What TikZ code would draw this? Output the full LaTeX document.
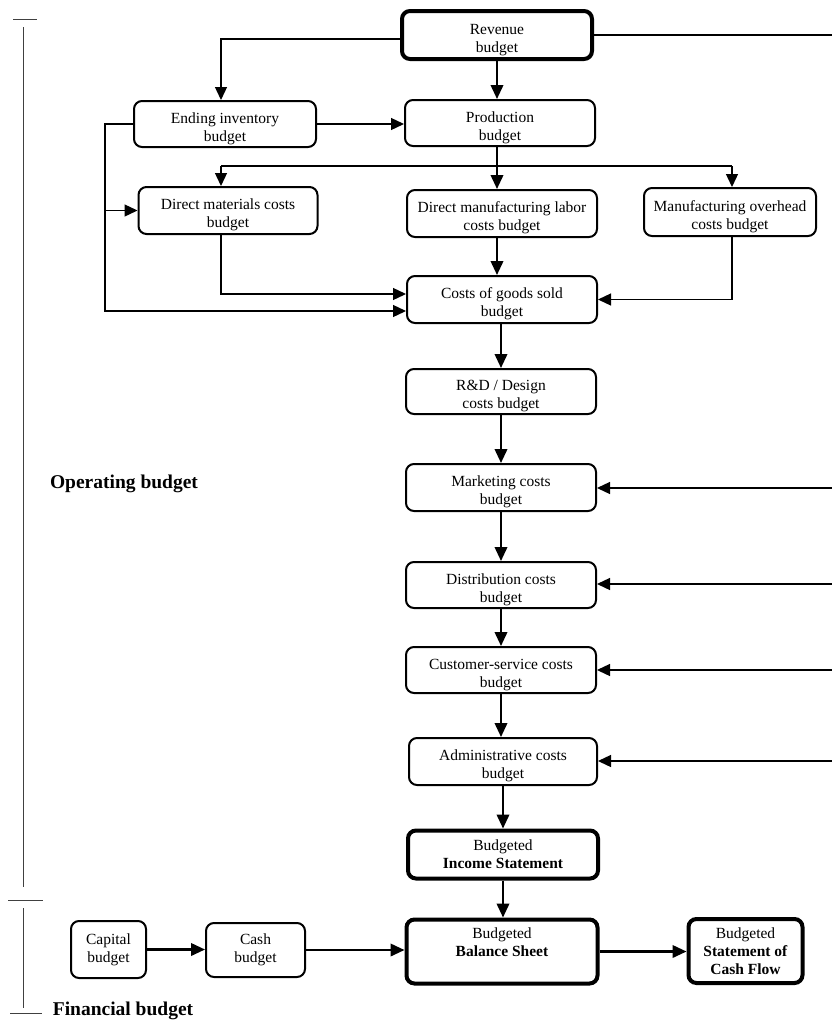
\documentclass[tikz,border=0pt]{standalone}
\usepackage{fontspec}
\setmainfont{Liberation Serif}
\usetikzlibrary{arrows.meta,calc}

\begin{document}
\begin{tikzpicture}[x=1pt,y=-1pt,
  frame/.style={draw, line width=2pt, rounded corners=8pt, align=center, inner sep=0pt,
                font=\fontsize{15.5}{18}\selectfont},
  box/.style={frame, text height=38pt},
  keyframe/.style={frame, line width=4pt},
  keybox/.style={box, line width=4pt},
  flow/.style={line width=2.2pt, -{Triangle[length=14pt,width=12.5pt]}},
  feed/.style={line width=1.3pt, -{Triangle[length=13pt,width=12pt]}},
  link/.style={line width=1.3pt},
  group/.style={font=\fontsize{19.5}{22}\selectfont\bfseries},
  bracket/.style={line width=1pt, draw=black!75}
]
\useasboundingbox (0,0) rectangle (832,1034);

% ---- operating budget boxes ----
\node[keybox, minimum width=190, minimum height=48] (rev)  at (497,35)    {Revenue\\budget};
\node[box, minimum width=190, minimum height=46]    (prod) at (500,123)   {Production\\budget};
\node[box, minimum width=182, minimum height=46]    (endi) at (225,124)   {Ending inventory\\budget};
\node[box, minimum width=179, minimum height=47]    (dm)   at (228,210.5) {Direct materials costs\\budget};
\node[box, minimum width=190, minimum height=47]    (dl)   at (502,213.5) {Direct manufacturing labor\\costs budget};
\node[box, minimum width=172, minimum height=48]    (mo)   at (730,212)   {Manufacturing overhead\\costs budget};
\node[box, minimum width=190, minimum height=47]    (cogs) at (502,299.5) {Costs of goods sold\\budget};
\node[box, minimum width=190, minimum height=45]    (rd)   at (501,391.5) {R\&D / Design\\costs budget};
\node[box, minimum width=190, minimum height=47]    (mkt)  at (501,487.5) {Marketing costs\\budget};
\node[box, minimum width=190, minimum height=46]    (dist) at (501,585)   {Distribution costs\\budget};
\node[box, minimum width=190, minimum height=46]    (cs)   at (501,670)   {Customer-service costs\\budget};
\node[box, minimum width=188, minimum height=47]    (adm)  at (503,761.5) {Administrative costs\\budget};
\node[keyframe, minimum width=190, minimum height=48] (inc) at (503,854.5) {Budgeted\\\textbf{Income Statement}};

% ---- financial budget boxes ----
\node[keyframe, minimum width=191, minimum height=64] (bal) at (502,951.5) {Budgeted\\\textbf{Balance Sheet}\\\mbox{}};
\node[keyframe, minimum width=114, minimum height=64] (cf)  at (745.5,951) {Budgeted\\\textbf{Statement of}\\\textbf{Cash Flow}};
\node[frame, minimum width=75, minimum height=57]     (cap) at (108.5,949.5) {Capital\\budget};
\node[frame, minimum width=99, minimum height=54]     (cash) at (255.5,950) {Cash\\budget};

% ---- group labels ----
\node[group] (op)  at (124,484)  {Operating budget};
\node[group] (fin) at (123,1011) {Financial budget};

% ---- free ends on the right edge and junction points ----
\coordinate (revR)  at (832,35);
\coordinate (mktR)  at (832,488);
\coordinate (distR) at (832,584);
\coordinate (csR)   at (832,670);
\coordinate (admR)  at (832,761);
\coordinate (brL)   at (221,166);
\coordinate (brR)   at (732,166);
\coordinate (lb)    at (105,311);

% ---- main column ----
\draw[flow] (rev.south)  -- (rev.south |- prod.north);
\draw[flow] (prod.south -| rev.south) -- (rev.south |- dl.north);
\draw[flow] (dl.south -| rev.south) -- (rev.south |- cogs.north);
\draw[flow] (cogs.south -| rd) -- (rd.north);
\draw[flow] (rd.south)   -- (mkt.north);
\draw[flow] (mkt.south)  -- (dist.north);
\draw[flow] (dist.south) -- (cs.north);
\draw[flow] (cs.south)   -- (cs.south |- adm.north);
\draw[flow] (adm.south)  -- (inc.north);
\draw[flow] (inc.south)  -- (inc.south |- bal.north);

% ---- revenue feeds ----
\draw[link] (rev.east) -- (revR);
\draw[feed] ([yshift=-4pt]rev.west) -| ([xshift=-4pt]endi.north);
\draw[feed] (endi.east) -- (endi.east -| prod.west);

% ---- production branch ----
\draw[link] (brL) -- (brR);
\draw[feed] (brL) -- (brL |- dm.north);
\draw[feed] (brR) -- (brR |- mo.north);

% ---- into costs of goods sold ----
\draw[feed] (endi.west) -| (lb) -- (lb -| cogs.west);
\draw[feed] (dm.west -| lb) -- (dm.west);
\draw[feed] (brL |- dm.south) |- ([yshift=5.5pt]cogs.west);
\draw[feed] (mo.south -| brR) |- (cogs.east);

% ---- feeds from the right ----
\draw[feed] (mktR)  -- (mktR -| mkt.east);
\draw[feed] (distR) -- (distR -| dist.east);
\draw[feed] (csR)   -- (csR -| cs.east);
\draw[feed] (admR)  -- (admR -| adm.east);

% ---- financial row ----
\draw[flow] (cap.east)  -- (cap.east -| cash.west);
\draw[flow] (cash.east) -- (cash.east -| bal.west);
\draw[flow] (bal.east)  -- (bal.east -| cf.west);

% ---- bracket marks on the left ----
\draw[bracket] (13,19) -- (37,19);
\draw[bracket] (23,27) -- (23,887);
\draw[bracket] (8,900) -- (43,900);
\draw[bracket] (23,908) -- (23,1008);
\draw[bracket] (10,1013) -- (42,1013);
\end{tikzpicture}
\end{document}
